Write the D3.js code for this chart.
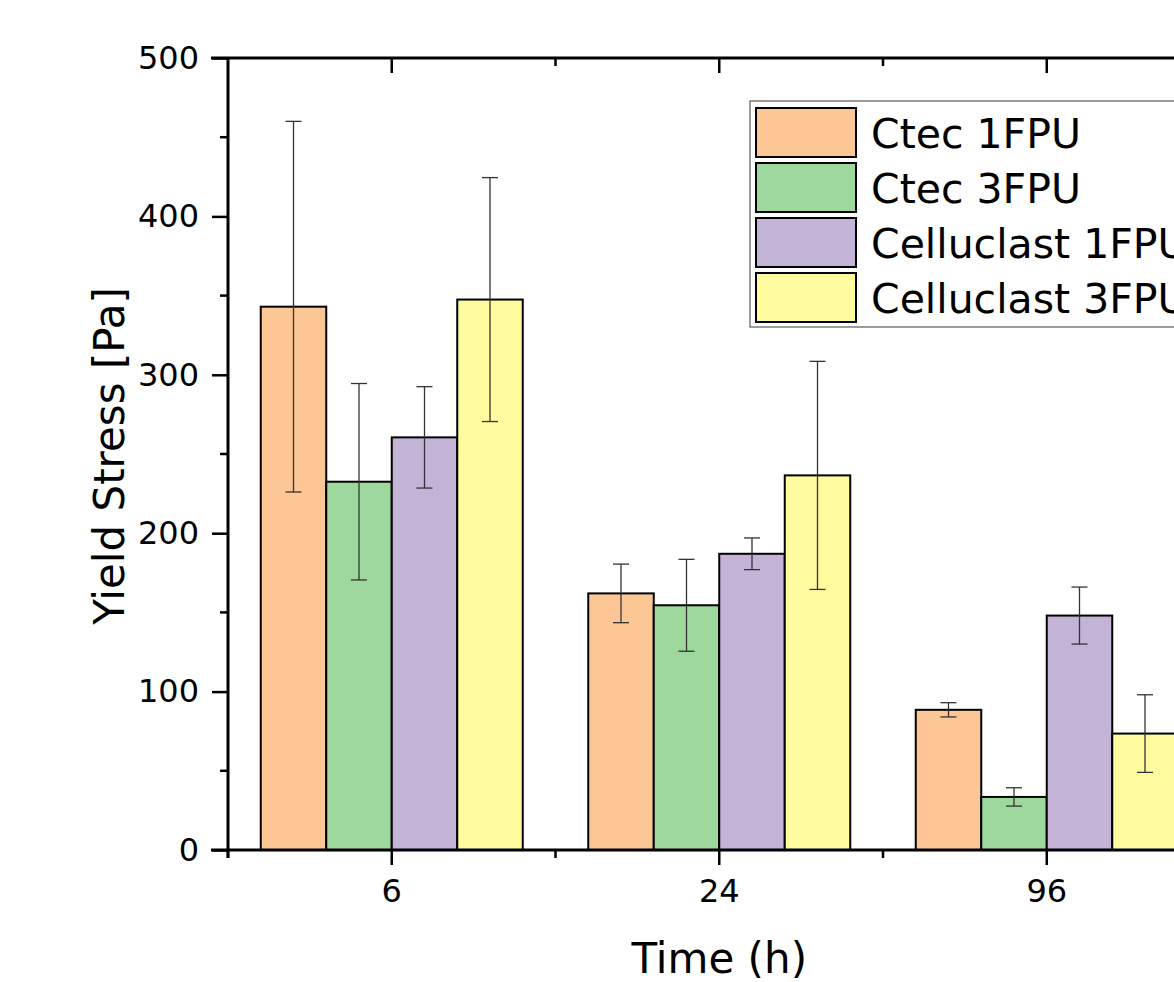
<!DOCTYPE html>
<html><head><meta charset="utf-8">
<script src="https://cdn.jsdelivr.net/npm/d3@7"></script>
<style>body{margin:0;background:#fff}svg text{font-family:"DejaVu Sans",Verdana,sans-serif}</style>
</head><body>
<svg id="c" width="1174" height="982"></svg>
<script>
const categories = ["6","24","96"];
const seriesNames = ["Ctec 1FPU","Ctec 3FPU","Celluclast 1FPU","Celluclast 3FPU"];
const colors = ["#FCC794","#9FD89D","#C3B3D7","#FFFCA0"];
const ctec1 = [343, 162, 88.5];
const ctec3 = [232.5, 154.5, 33.5];
const cell1 = [260.5, 187, 148];
const cell3 = [347.5, 236.5, 73.5];
const ctec1Err = [117, 18.5, 4.5];
const ctec3Err = [62, 29, 5.8];
const cell1Err = [32, 10, 18];
const cell3Err = [77, 72, 24.5];
const yTicks = [0,100,200,300,400,500];

const values = [ctec1, ctec3, cell1, cell3];
const errs = [ctec1Err, ctec3Err, cell1Err, cell3Err];

const svg = d3.select("#c");
const L = 228, T = 58, B = 850, band = 327.5;
const R = L + band * categories.length;

const x = d3.scaleBand().domain(categories).range([L, R]).padding(0);
const x1 = d3.scaleBand().domain(seriesNames).range([x.bandwidth()*0.1, x.bandwidth()*0.9]).padding(0);
const y = d3.scaleLinear().domain([0,500]).range([B, T]);

// bars
categories.forEach((c, ci) => {
  seriesNames.forEach((s, si) => {
    const v = values[si][ci];
    svg.append("rect")
      .attr("x", x(c) + x1(s)).attr("y", y(v))
      .attr("width", x1.bandwidth()).attr("height", y(0) - y(v))
      .attr("fill", colors[si]).attr("stroke", "#000").attr("stroke-width", 2);
  });
});
// error bars
categories.forEach((c, ci) => {
  seriesNames.forEach((s, si) => {
    const v = values[si][ci], e = errs[si][ci];
    const cx = x(c) + x1(s) + x1.bandwidth()/2;
    const g = svg.append("g").attr("stroke", "#333").attr("stroke-width", 1.3);
    g.append("line").attr("x1", cx).attr("x2", cx).attr("y1", y(v+e)).attr("y2", y(v-e));
    g.append("line").attr("x1", cx-8).attr("x2", cx+8).attr("y1", y(v+e)).attr("y2", y(v+e));
    g.append("line").attr("x1", cx-8).attr("x2", cx+8).attr("y1", y(v-e)).attr("y2", y(v-e));
  });
});

// frame axes
const ax = svg.append("g").attr("stroke", "#000").attr("stroke-width", 3).attr("fill", "none");
ax.append("line").attr("x1", 211).attr("x2", R).attr("y1", B).attr("y2", B);
ax.append("line").attr("x1", 211).attr("x2", R).attr("y1", T).attr("y2", T);
ax.append("line").attr("x1", L).attr("x2", L).attr("y1", T).attr("y2", B+8);

// y axis
const yAxis = d3.axisLeft(y).tickValues(yTicks).tickSize(16).tickPadding(13).tickFormat(d3.format("d"));
const gy = svg.append("g").attr("transform", `translate(${L},0)`).call(yAxis);
gy.select(".domain").remove();
gy.selectAll(".tick line").attr("stroke-width", 2.5);
gy.selectAll(".tick text").attr("font-size", 32).attr("font-family", "DejaVu Sans").attr("fill", "#000");
const yMinor = d3.range(50, 500, 100);
svg.append("g").selectAll("line").data(yMinor).join("line")
  .attr("x1", L-8).attr("x2", L).attr("y1", d => y(d)).attr("y2", d => y(d))
  .attr("stroke", "#000").attr("stroke-width", 2.5);

// x axis
const xAxis = d3.axisBottom(x).tickSize(15).tickPadding(14);
const gx = svg.append("g").attr("transform", `translate(0,${B})`).call(xAxis);
gx.select(".domain").remove();
gx.selectAll(".tick line").attr("stroke-width", 2.5);
gx.selectAll(".tick text").attr("font-size", 32).attr("font-family", "DejaVu Sans").attr("fill", "#000");
const bounds = d3.range(categories.length + 1).map(i => L + i * x.step());
svg.append("g").selectAll("line").data(bounds).join("line")
  .attr("x1", d => d).attr("x2", d => d).attr("y1", B).attr("y2", B+8)
  .attr("stroke", "#000").attr("stroke-width", 2.5);
// top ticks inward
svg.append("g").selectAll("line").data(categories).join("line")
  .attr("x1", d => x(d) + x.bandwidth()/2).attr("x2", d => x(d) + x.bandwidth()/2)
  .attr("y1", T).attr("y2", T+15).attr("stroke", "#000").attr("stroke-width", 2.5);
svg.append("g").selectAll("line").data(bounds.slice(1)).join("line")
  .attr("x1", d => d).attr("x2", d => d).attr("y1", T).attr("y2", T+8)
  .attr("stroke", "#000").attr("stroke-width", 2.5);

// titles
svg.append("text").attr("x", x("24") + x.bandwidth()/2).attr("y", 973)
  .attr("text-anchor", "middle").attr("font-size", 42).attr("fill", "#000").text("Time (h)");
svg.append("text").attr("transform", `translate(124,${(T+B)/2 + 2}) rotate(-90)`)
  .attr("text-anchor", "middle").attr("font-size", 42).attr("fill", "#000").text("Yield Stress [Pa]");

// legend (clipped at the right edge, as in the reference)
const lg = svg.append("g");
lg.append("rect").attr("x", 750).attr("y", 101).attr("width", 460).attr("height", 226)
  .attr("fill", "#fff").attr("stroke", "#666").attr("stroke-width", 1.3);
seriesNames.forEach((s, i) => {
  const ry = 108 + i * 55;
  lg.append("rect").attr("x", 756).attr("y", ry).attr("width", 100).attr("height", 49)
    .attr("fill", colors[i]).attr("stroke", "#000").attr("stroke-width", 2);
  lg.append("text").attr("x", 871).attr("y", ry + 40).attr("font-size", 41).attr("fill", "#000").text(s);
});
</script>
</body></html>
